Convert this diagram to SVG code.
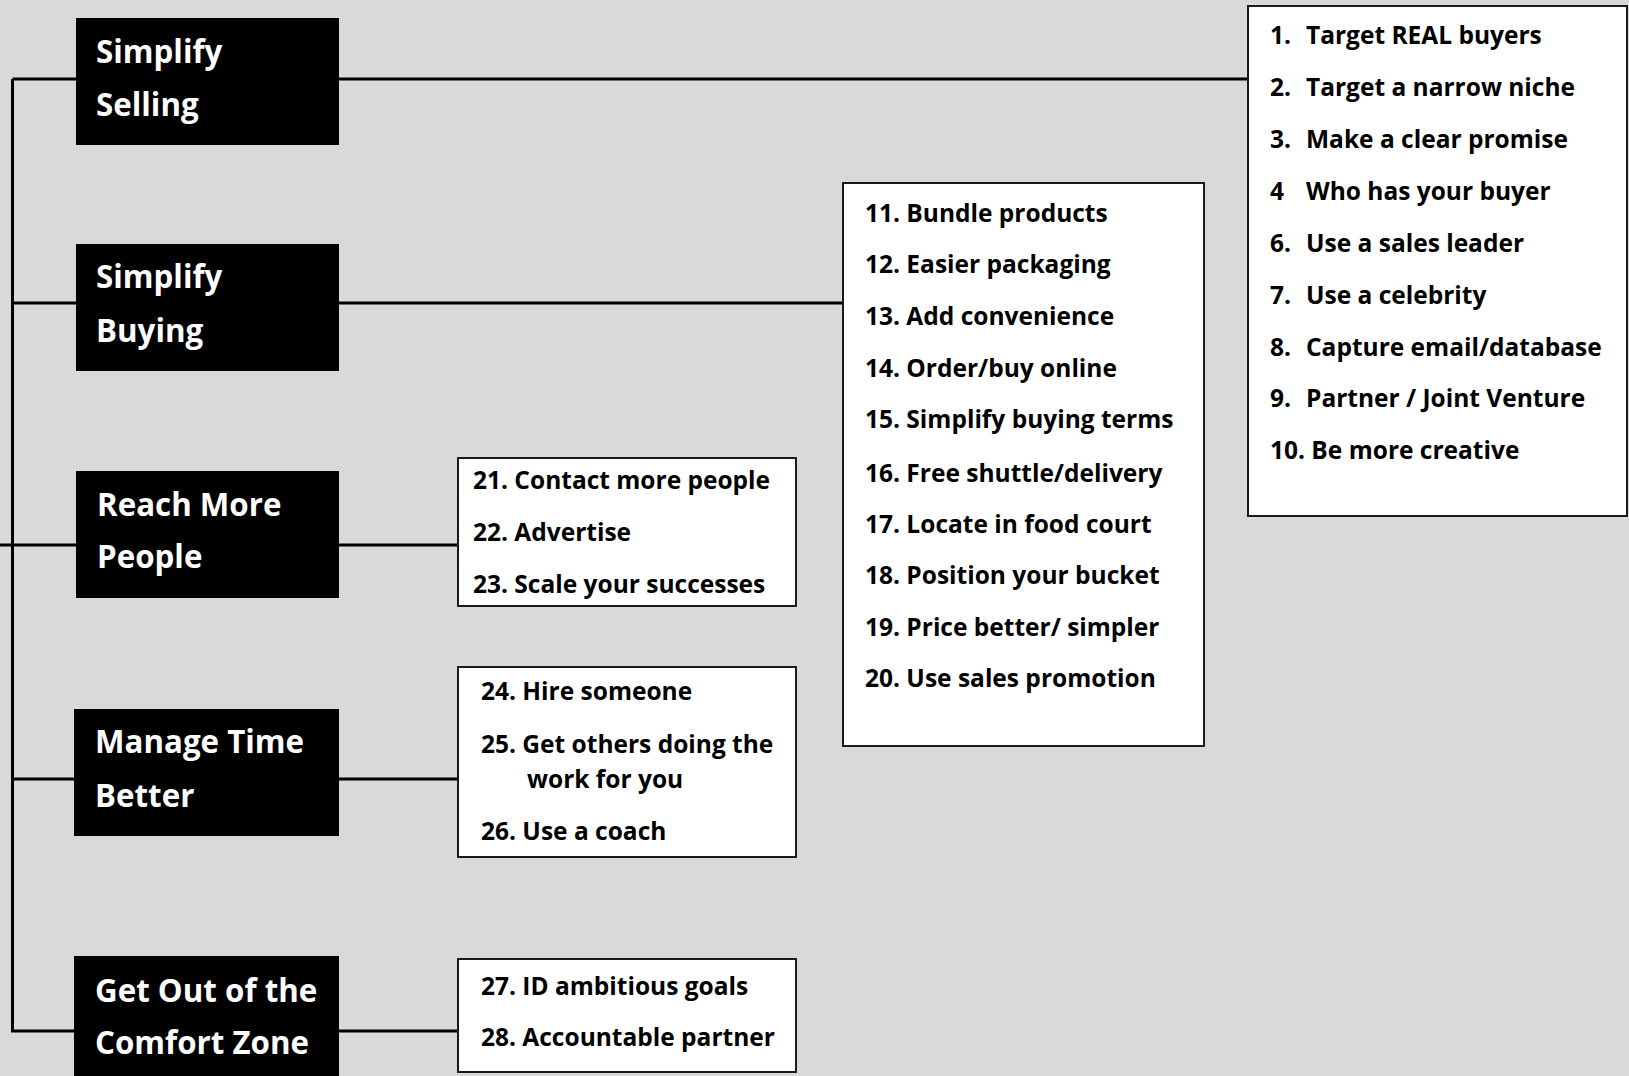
<svg xmlns="http://www.w3.org/2000/svg" width="1629" height="1076" viewBox="0 0 1629 1076">
<style>
.bg{fill:#d9d9d9}
.con{stroke:#000;stroke-width:3;fill:none}
.hd{fill:#000}
.ht{fill:#fff;font-family:"Open Sans","Liberation Sans",sans-serif;font-weight:bold;font-size:31.3px}
.lb{fill:#fff;stroke:#1a1a1a;stroke-width:2}
.it{fill:#000;font-family:"Open Sans","Liberation Sans",sans-serif;font-weight:bold;font-size:24.5px}
</style>
<rect class="bg" x="0" y="0" width="1629" height="1076"/>
<g id="connectors">
<path class="con" d="M12.5 79 V1031"/>
<path class="con" d="M12.5 79 H1248"/>
<path class="con" d="M12.5 303 H843"/>
<path class="con" d="M0 545 H458"/>
<path class="con" d="M12.5 779 H458"/>
<path class="con" d="M11 1031 H458"/>
</g>
<g id="node-simplify-selling">
<rect class="hd" x="76" y="18" width="263" height="127"/>
<text class="ht" x="96" y="63">Simplify</text>
<text class="ht" x="96" y="116">Selling</text>
</g>
<g id="node-simplify-buying">
<rect class="hd" x="76" y="244" width="263" height="127"/>
<text class="ht" x="96" y="288">Simplify</text>
<text class="ht" x="96" y="342">Buying</text>
</g>
<g id="node-reach-more-people">
<rect class="hd" x="76" y="471" width="263" height="127"/>
<text class="ht" x="97" y="516">Reach More</text>
<text class="ht" x="97" y="568">People</text>
</g>
<g id="node-manage-time">
<rect class="hd" x="74" y="709" width="265" height="127"/>
<text class="ht" x="95" y="753">Manage Time</text>
<text class="ht" x="95" y="807">Better</text>
</g>
<g id="node-comfort-zone">
<rect class="hd" x="74" y="956" width="265" height="130"/>
<text class="ht" x="95" y="1002">Get Out of the</text>
<text class="ht" x="95" y="1054">Comfort Zone</text>
</g>
<g id="list-selling">
<rect class="lb" x="1248" y="6" width="379" height="510"/>
<text class="it" y="44"><tspan x="1270">1.</tspan><tspan x="1306">Target REAL buyers</tspan></text>
<text class="it" y="96"><tspan x="1270">2.</tspan><tspan x="1306">Target a narrow niche</tspan></text>
<text class="it" y="148"><tspan x="1270">3.</tspan><tspan x="1306">Make a clear promise</tspan></text>
<text class="it" y="200"><tspan x="1270">4</tspan><tspan x="1306">Who has your buyer</tspan></text>
<text class="it" y="252"><tspan x="1270">6.</tspan><tspan x="1306">Use a sales leader</tspan></text>
<text class="it" y="304"><tspan x="1270">7.</tspan><tspan x="1306">Use a celebrity</tspan></text>
<text class="it" y="356"><tspan x="1270">8.</tspan><tspan x="1306">Capture email/database</tspan></text>
<text class="it" y="407"><tspan x="1270">9.</tspan><tspan x="1306">Partner / Joint Venture</tspan></text>
<text class="it" x="1270" y="459">10. Be more creative</text>
</g>
<g id="list-buying">
<rect class="lb" x="843" y="183" width="361" height="563"/>
<text class="it" x="865" y="222">11. Bundle products</text>
<text class="it" x="865" y="273">12. Easier packaging</text>
<text class="it" x="865" y="325">13. Add convenience</text>
<text class="it" x="865" y="377">14. Order/buy online</text>
<text class="it" x="865" y="428">15. Simplify buying terms</text>
<text class="it" x="865" y="482">16. Free shuttle/delivery</text>
<text class="it" x="865" y="533">17. Locate in food court</text>
<text class="it" x="865" y="584">18. Position your bucket</text>
<text class="it" x="865" y="636">19. Price better/ simpler</text>
<text class="it" x="865" y="687">20. Use sales promotion</text>
</g>
<g id="list-reach">
<rect class="lb" x="458" y="458" width="338" height="148"/>
<text class="it" x="473" y="489">21. Contact more people</text>
<text class="it" x="473" y="541">22. Advertise</text>
<text class="it" x="473" y="593">23. Scale your successes</text>
</g>
<g id="list-time">
<rect class="lb" x="458" y="667" width="338" height="190"/>
<text class="it" x="481" y="700">24. Hire someone</text>
<text class="it" x="481" y="753">25. Get others doing the</text>
<text class="it" x="527" y="788">work for you</text>
<text class="it" x="481" y="840">26. Use a coach</text>
</g>
<g id="list-comfort">
<rect class="lb" x="458" y="959" width="338" height="113"/>
<text class="it" x="481" y="995">27. ID ambitious goals</text>
<text class="it" x="481" y="1046">28. Accountable partner</text>
</g>
</svg>
